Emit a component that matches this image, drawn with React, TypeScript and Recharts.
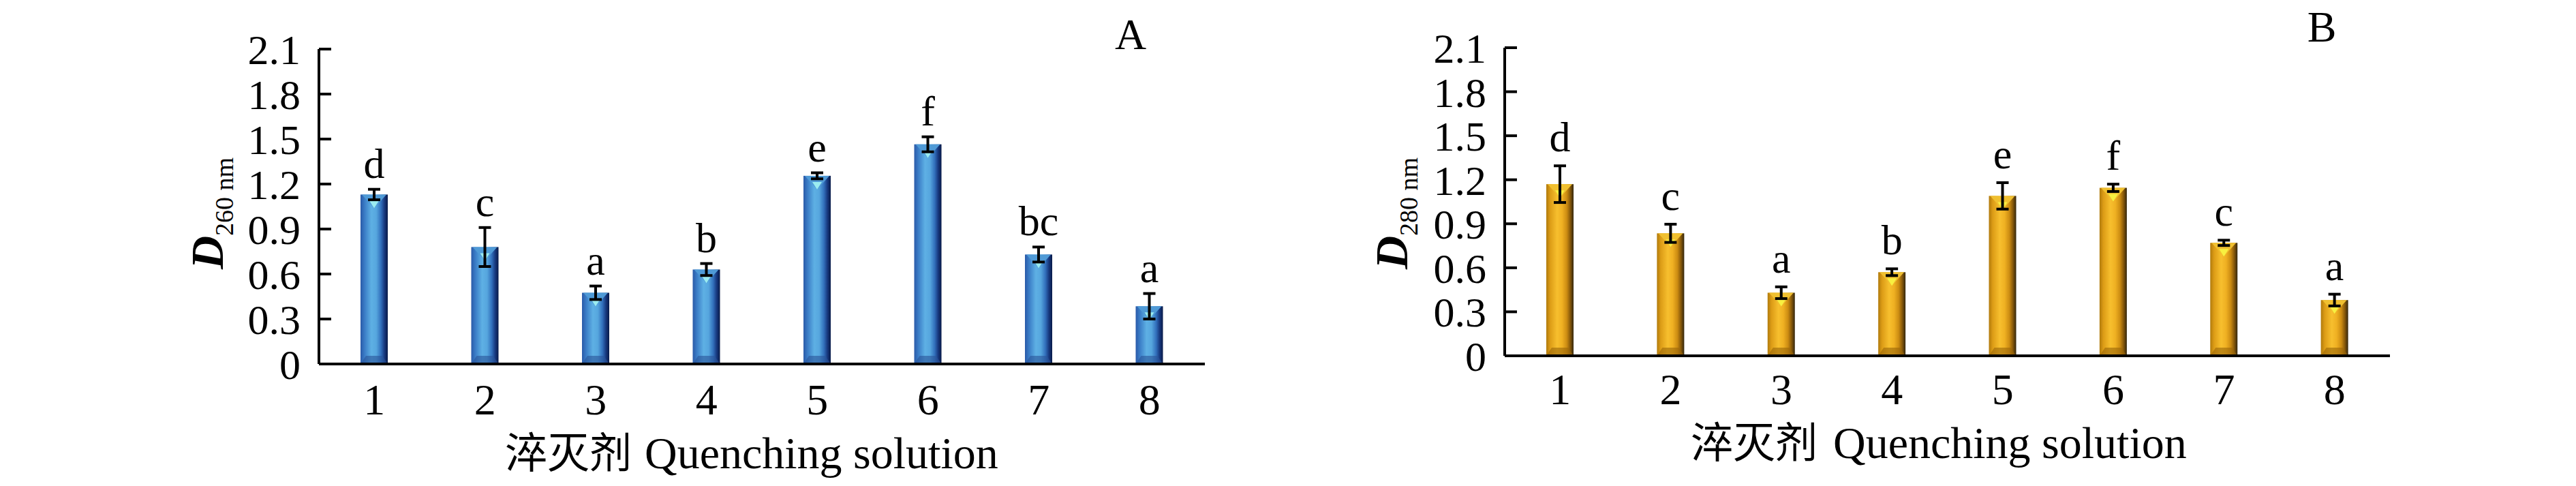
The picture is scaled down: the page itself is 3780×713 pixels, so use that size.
import { BarChart, Bar, XAxis, YAxis, ErrorBar, LabelList, Label } from 'recharts'

const SERIF = '"Liberation Serif", "Times New Roman", serif'
const CJK = '"Noto Sans CJK SC", sans-serif'

// groups on the x axis
const groups = ['1', '2', '3', '4', '5', '6', '7', '8']
const yTicks = [0, 0.3, 0.6, 0.9, 1.2, 1.5, 1.8, 2.1]

// panel A: D260 nm
const d260 = [1.13, 0.78, 0.475, 0.63, 1.255, 1.465, 0.73, 0.385]
const d260Err = [0.035, 0.13, 0.045, 0.04, 0.02, 0.05, 0.05, 0.085]
const d260Letters = ['d', 'c', 'a', 'b', 'e', 'f', 'bc', 'a']

// panel B: D280 nm
const d280 = [1.17, 0.835, 0.43, 0.57, 1.09, 1.145, 0.77, 0.38]
const d280Err = [0.125, 0.062, 0.04, 0.023, 0.09, 0.025, 0.018, 0.04]
const d280Letters = ['d', 'c', 'a', 'b', 'e', 'f', 'c', 'a']

const rowsA = groups.map((name, i) => ({ name, v: d260[i], err: d260Err[i], letter: d260Letters[i] }))
const rowsB = groups.map((name, i) => ({ name, v: d280[i], err: d280Err[i], letter: d280Letters[i] }))

const YTick = (props: any) => {
  const { x, y, payload } = props
  return (
    <g>
      <line x1={x + 27} x2={x + 45} y1={y} y2={y} stroke="#000" strokeWidth={4} />
      <text x={x} y={y} dy="0.355em" textAnchor="end" fontSize={62} fontFamily={SERIF} fill="#000">
        {payload.value}
      </text>
    </g>
  )
}

// bevelled bar, like the excel "3D" fill
const makeShape = (grad: string, tri: string, tip: string, base: string) => (props: any) => {
  const { x, y, width: w, height: h } = props
  if (!h || h <= 0) return null
  const cx = x + w / 2
  return (
    <g>
      <rect x={x} y={y} width={w} height={h} fill={`url(#${grad})`} />
      <polygon points={`${x + 2},${y} ${x + w - 2},${y} ${cx},${y + 20}`} fill={tri} />
      <polygon points={`${cx - 7},${y + 9} ${cx + 7},${y + 9} ${cx},${y + 20}`} fill={tip} />
      <polygon
        points={`${x},${y + h} ${x + w},${y + h} ${x + w - 8},${y + h - 12} ${x + 8},${y + h - 12}`}
        fill={base}
        opacity={0.6}
      />
    </g>
  )
}

const letterLabel = (values: number[], errs: number[], gap: number) => (props: any) => {
  const { x, y, width, height, value, index } = props
  const v = values[index]
  const errPx = v ? (errs[index] * height) / v : 0
  return (
    <text x={x + width / 2} y={y - errPx - gap} textAnchor="middle" fontSize={62} fontFamily={SERIF} fill="#000">
      {value}
    </text>
  )
}

const yLabel = (sub: string, dx: number, dy: number) => (props: any) => {
  const { viewBox } = props
  const bx = viewBox.x + dx
  const cy = viewBox.y + viewBox.height / 2 + dy
  return (
    <text transform={`translate(${bx},${cy}) rotate(-90)`} textAnchor="middle" fontFamily={SERIF} fill="#000">
      <tspan fontSize={68} fontStyle="italic" fontWeight="bold">D</tspan>
      <tspan fontSize={38} dy={15}>{sub}</tspan>
    </text>
  )
}

// chinese + english axis title, two pieces so the fonts can differ
const xTitle = (cjkX: number, latX: number, base: number) => (props: any) => {
  const { viewBox } = props
  const y = viewBox.y + base
  return (
    <g>
      <text x={viewBox.x + cjkX} y={y} fontFamily={CJK} fontSize={62} fill="#000">淬灭剂</text>
      <text x={viewBox.x + latX} y={y} fontFamily={SERIF} fontSize={66} fill="#000">Quenching solution</text>
    </g>
  )
}

function Panel({ rows, values, errs, grad, margin, tickMargin, gap, sub, yl, xt, shape }: any) {
  return (
    <BarChart width={1890} height={713} data={rows} margin={margin}>
      {grad}
      <XAxis
        dataKey="name"
        interval={0}
        tickLine={false}
        tickSize={0}
        tickMargin={tickMargin}
        height={60}
        axisLine={{ stroke: '#000', strokeWidth: 4 }}
        tick={{ fontSize: 64, fill: '#000', fontFamily: SERIF }}
      >
        <Label content={xTitle(xt[0], xt[1], xt[2])} />
      </XAxis>
      <YAxis
        width={180}
        domain={[0, 2.1]}
        ticks={yTicks}
        interval={0}
        tickLine={false}
        tickSize={0}
        tickMargin={27}
        axisLine={{ stroke: '#000', strokeWidth: 4 }}
        tick={<YTick />}
      >
        <Label content={yLabel(sub, yl[0], yl[1])} />
      </YAxis>
      <Bar dataKey="v" barSize={40} isAnimationActive={false} shape={shape}>
        <ErrorBar dataKey="err" direction="y" width={9} strokeWidth={4} stroke="#000" isAnimationActive={false} />
        <LabelList dataKey="letter" content={letterLabel(values, errs, gap)} />
      </Bar>
    </BarChart>
  )
}

export default function App() {
  const blueGrad = (
    <defs>
      <linearGradient id="gBlue" x1="0" y1="0" x2="1" y2="0">
        <stop offset="0%" stopColor="#2a5aa8" />
        <stop offset="15%" stopColor="#3a7cc6" />
        <stop offset="40%" stopColor="#5eb0e4" />
        <stop offset="58%" stopColor="#56a6de" />
        <stop offset="75%" stopColor="#3270bc" />
        <stop offset="88%" stopColor="#17387e" />
        <stop offset="100%" stopColor="#081a48" />
      </linearGradient>
    </defs>
  )
  const goldGrad = (
    <defs>
      <linearGradient id="gGold" x1="0" y1="0" x2="1" y2="0">
        <stop offset="0%" stopColor="#b07a0c" />
        <stop offset="14%" stopColor="#dc9c16" />
        <stop offset="40%" stopColor="#f7bf2e" />
        <stop offset="58%" stopColor="#efb022" />
        <stop offset="75%" stopColor="#cc8c12" />
        <stop offset="88%" stopColor="#86580a" />
        <stop offset="100%" stopColor="#33260c" />
      </linearGradient>
    </defs>
  )
  return (
    <div style={{ position: 'fixed', left: 0, top: 0, width: 3780, height: 713, background: '#fff' }}>
      <div style={{ position: 'absolute', left: 0, top: 0 }}>
        <Panel
          rows={rowsA}
          values={d260}
          errs={d260Err}
          grad={blueGrad}
          margin={{ top: 72, right: 122, bottom: 119, left: 288 }}
          tickMargin={29}
          gap={17}
          sub="260 nm"
          yl={[39, 10]}
          xt={[273, 478, 153]}
          shape={makeShape('gBlue', '#4f9ad6', '#9becf0', '#2a5498')}
        />
      </div>
      <div style={{ position: 'absolute', left: 1890, top: 0 }}>
        <Panel
          rows={rowsB}
          values={d280}
          errs={d280Err}
          grad={goldGrad}
          margin={{ top: 70, right: 273, bottom: 131, left: 138 }}
          tickMargin={26}
          gap={21}
          sub="280 nm"
          yl={[37, 17]}
          xt={[273, 482, 150]}
          shape={makeShape('gGold', '#f0c030', '#f8f040', '#9a6608')}
        />
      </div>
      <svg width={3780} height={713} style={{ position: 'absolute', left: 0, top: 0, pointerEvents: 'none' }}>
        <text x={1659} y={72} textAnchor="middle" fontSize={64} fontFamily={SERIF} fill="#000">A</text>
        <text x={3407} y={61} textAnchor="middle" fontSize={64} fontFamily={SERIF} fill="#000">B</text>
      </svg>
    </div>
  )
}
